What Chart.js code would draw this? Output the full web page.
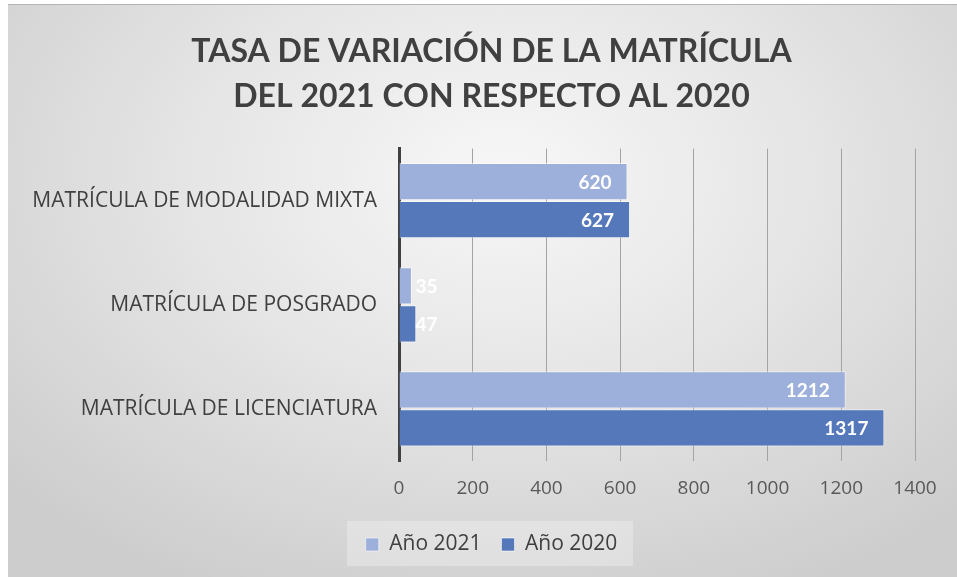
<!DOCTYPE html>
<html>
<head>
<meta charset="utf-8">
<script src="https://cdn.jsdelivr.net/npm/chart.js@4"></script>
<style>
  html, body { margin: 0; padding: 0; background: #ffffff; }
  #wrap {
    position: absolute; left: 8px; top: 4px; width: 949px; height: 573px;
    border-top: 1px solid #b4b4b4;
    box-sizing: border-box;
    background: radial-gradient(ellipse 70% 80% at 52% 30%, #f7f7f7 0%, #e6e6e6 45%, #cdcdcd 100%);
  }
</style>
</head>
<body>
<div id="wrap"><canvas id="myChart" width="949" height="572"></canvas></div>
<script>
// Horizontal grouped bar chart
const categories = ['MATRÍCULA DE MODALIDAD MIXTA', 'MATRÍCULA DE POSGRADO', 'MATRÍCULA DE LICENCIATURA'];
const values2021 = [620, 35, 1212];
const values2020 = [627, 47, 1317];
const seriesNames = ['Año 2021', 'Año 2020'];
const titleLines = ['TASA DE VARIACIÓN DE LA MATRÍCULA', 'DEL 2021 CON RESPECTO AL 2020'];

// white bold value labels at the end of each bar
const barLabels = {
    id: 'barLabels',
    afterDatasetsDraw(chart) {
        let ctx = chart.ctx;
        ctx.save();
        ctx.font = 'bold 19px Lato, sans-serif';
        ctx.fillStyle = '#ffffff';
        ctx.textBaseline = 'middle';
        ctx.textAlign = 'right';
        chart.data.datasets.forEach((ds, i) => {
            chart.getDatasetMeta(i).data.forEach((bar, j) => {
                let txt = String(ds.data[j]);
                let w = ctx.measureText(txt).width;
                let x = Math.max(bar.x - 16, bar.base + 16 + w);
                ctx.fillText(txt, x, bar.y + 1);
            });
        });
        ctx.restore();
    }
};

// light box behind the legend
const legendBox = {
    id: 'legendBox',
    beforeDraw(chart) {
        let ctx = chart.ctx;
        ctx.save();
        ctx.fillStyle = 'rgba(255,255,255,0.28)';
        ctx.fillRect(339, 516, 286, 45);
        ctx.restore();
    }
};

let ctx = document.getElementById('myChart').getContext('2d');
let myChart = new Chart(ctx, {
    type: 'bar',
    data: {
        labels: categories,
        datasets: [{
                label: seriesNames[0],
                data: values2021,
                backgroundColor: '#9dafdb',
                borderColor: 'rgba(255,255,255,0.55)',
                borderWidth: 1,
                barPercentage: 0.98,
                categoryPercentage: 0.73
            },
            {
                label: seriesNames[1],
                data: values2020,
                backgroundColor: '#5578bb',
                borderColor: 'rgba(255,255,255,0.55)',
                borderWidth: 1,
                barPercentage: 0.98,
                categoryPercentage: 0.73
            }
        ]
    },
    options: {
        indexAxis: 'y',
        responsive: false,
        animation: false,
        layout: { padding: { left: 18, right: 0, bottom: 12 } },
        scales: {
            x: {
                min: 0,
                max: 1400,
                ticks: {
                    stepSize: 200, color: '#595959', padding: 16,
                    font: { family: 'Open Sans', size: 19 },
                    callback: (v) => String(v)
                },
                grid: { color: '#a3a3a3', lineWidth: 1, drawTicks: false },
                border: { display: false },
                afterFit(scale) { scale.height = 53; scale.paddingRight = 42; }
            },
            y: {
                ticks: { color: '#404040', padding: 22, font: { family: 'Open Sans', size: 21 } },
                grid: { display: false, drawTicks: false },
                border: { color: '#404040', width: 3 },
                afterFit(scale) { scale.width = 373; }
            }
        },
        plugins: {
            title: {
                display: true,
                text: titleLines,
                color: '#404040',
                font: { family: 'Lato', size: 32, weight: 'bold', lineHeight: 1.4 },
                padding: { top: 24, bottom: 30 }
            },
            legend: {
                position: 'bottom',
                labels: {
                    color: '#404040',
                    boxWidth: 13,
                    boxHeight: 13,
                    padding: 20,
                    font: { family: 'Open Sans', size: 21 }
                }
            },
            tooltip: { enabled: false }
        }
    },
    plugins: [barLabels, legendBox]
});
</script>
</body>
</html>
